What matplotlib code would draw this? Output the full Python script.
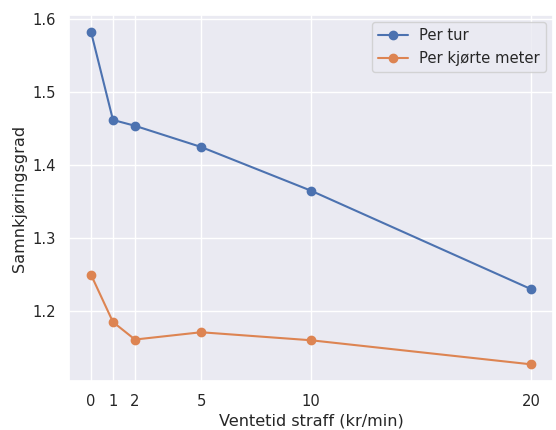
import matplotlib
matplotlib.use("Agg")
import seaborn as sns
from matplotlib import pyplot as plt

sns.set_theme()

straff = [0, 1, 2, 5, 10, 20]
per_tur = [1.583, 1.462, 1.454, 1.425, 1.365, 1.230]
per_meter = [1.250, 1.185, 1.161, 1.171, 1.160, 1.127]

fig = plt.figure(figsize=(5.56, 4.30), dpi=100)
ax = fig.add_axes([0.124, 0.114, 0.871, 0.851])
ax.plot(straff, per_tur, marker="o", label="Per tur")
ax.plot(straff, per_meter, marker="o", label="Per kjørte meter")
ax.set_xticks(straff)
ax.set_yticks([1.2, 1.3, 1.4, 1.5, 1.6])
ax.tick_params(labelsize=10.6)
ax.set_xlabel("Ventetid straff (kr/min)", fontsize=11.6, labelpad=3)
ax.set_ylabel("Samnkjøringsgrad", fontsize=11.6)
ax.legend(loc="upper right", fontsize=10.6)
fig.savefig("out.png", dpi=100)
